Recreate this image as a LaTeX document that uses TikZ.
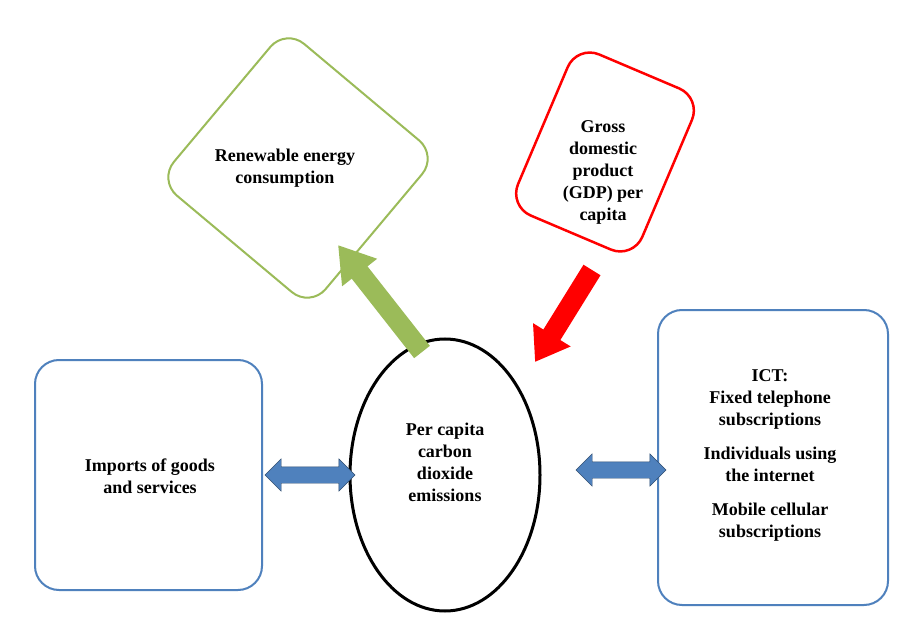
\documentclass[tikz,border=0pt]{standalone}
\usepackage{fontspec}
\setmainfont{Liberation Serif}
\usetikzlibrary{shapes.geometric,shapes.arrows,arrows.meta}
\definecolor{sblue}{RGB}{79,129,189}
\definecolor{ogreen}{RGB}{155,187,89}
\begin{document}
\begin{tikzpicture}[x=1pt,y=1pt,
  lbl/.style={font=\bfseries\fontsize{18}{22}\selectfont,align=center},
  bluebox/.style={draw=sblue,line width=2pt,rounded corners=24pt},
  darr/.style={double arrow,fill=sblue,draw=sblue!60!black,double arrow head extend=8pt,minimum height=90pt,inner xsep=0pt,inner ysep=8pt}]
\useasboundingbox (0,-639) rectangle (916,0);
\fill[white] (0,-639) rectangle (916,0);
\node[draw=ogreen,line width=2pt,rounded corners=24pt,minimum width=198pt,minimum height=198pt,rotate=-40] (gsq) at (298,-168) {};
\node[lbl] (gt) at (285,-168) {Renewable energy\\consumption};
\node[draw=red,line width=2.5pt,rounded corners=24pt,minimum width=135pt,minimum height=175pt,rotate=-23] (rsq) at (605,-152) {};
\node[lbl] (rt) at (603,-172) {Gross\\domestic\\product\\(GDP) per\\capita};
\node[ellipse,draw,line width=3pt,minimum width=190pt,minimum height=272pt] (ell) at (445,-475) {};
\node[lbl] (et) at (445,-462) {Per capita\\carbon\\dioxide\\emissions};
\draw[bluebox] (35,-360) rectangle (262,-590);
\node[lbl] (lt) at (150,-476) {Imports of goods\\and services};
\draw[bluebox] (658,-310) rectangle (888,-605);
\node[lbl] (rtx) at (770,-455) {ICT:\\Fixed telephone\\subscriptions\\[12pt]Individuals using\\the internet\\[12pt]Mobile cellular\\subscriptions};
\node[darr] (d1) at (310,-475) {};
\node[darr] (d2) at (621,-470) {};
\coordinate (g1) at (422,-352);
\coordinate (g2) at (338,-245);
\draw[ogreen,line width=20pt,-{Triangle[width=42pt,length=35pt]}] (g1) -- (g2);
\coordinate (r1) at (592,-270);
\coordinate (r2) at (535,-362);
\draw[red,line width=20pt,-{Triangle[width=42pt,length=32pt]}] (r1) -- (r2);
\end{tikzpicture}
\end{document}
